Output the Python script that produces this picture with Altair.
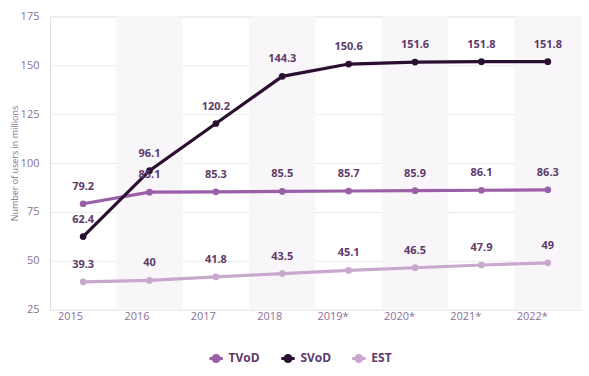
import altair as alt
import pandas as pd

years = ["2015", "2016", "2017", "2018", "2019*", "2020*", "2021*", "2022*"]
tvod = [79.2, 85.1, 85.3, 85.5, 85.7, 85.9, 86.1, 86.3]
svod = [62.4, 96.1, 120.2, 144.3, 150.6, 151.6, 151.8, 151.8]
est = [39.3, 40, 41.8, 43.5, 45.1, 46.5, 47.9, 49]
series = ["TVoD", "SVoD", "EST"]
colors = ["#9a5fa6", "#2b0f30", "#c8a8cd"]
shaded = ["2016", "2018", "2020*", "2022*"]

rows = []
for name, vals in zip(series, [tvod, svod, est]):
    for y, v in zip(years, vals):
        rows.append({"year": y, "value": v, "series": name})
df = pd.DataFrame(rows)
bands = pd.DataFrame({"year": shaded})

font = "Open Sans"
H = 294
xenc = alt.X("year:N", sort=years, scale=alt.Scale(domain=years, paddingInner=0, paddingOuter=0),
             axis=alt.Axis(title=None, labelAngle=0, labelColor="#8a6f95", labelFontSize=11,
                           labelFont=font, domain=False, ticks=False, labelPadding=7, grid=False))
yscale = alt.Scale(domain=[25, 175], nice=False, zero=False)

bg = alt.Chart(bands).mark_rect(color="#f9f6fa").encode(
    x=alt.X("year:N", sort=years, scale=alt.Scale(domain=years, paddingInner=0, paddingOuter=0)),
    y=alt.value(0), y2=alt.value(H))

color = alt.Color("series:N", sort=series, scale=alt.Scale(domain=series, range=colors),
                  legend=alt.Legend(title=None, orient="none", direction="horizontal",
                                    legendX=158, legendY=334, labelFont=font, labelFontSize=12,
                                    labelFontWeight="bold", labelColor="#5d3a6b",
                                    symbolType="M-1,0L1,0M-0.45,0A0.45,0.45 0 1 1 0.45,0A0.45,0.45 0 1 1 -0.45,0Z",
                                    symbolSize=180, symbolStrokeWidth=3, columnPadding=14))

lines = alt.Chart(df).mark_line(strokeWidth=3.2, point=alt.OverlayMarkDef(size=45, filled=True)).encode(
    x=xenc,
    y=alt.Y("value:Q", scale=yscale,
            axis=alt.Axis(title="Number of users in millions", titleFont=font, titleFontSize=9,
                          titleFontWeight="normal", titleColor="#8a6f95", titlePadding=1,
                          values=[25, 50, 75, 100, 125, 150, 175], labelColor="#8a6f95",
                          labelFont=font, labelFontSize=11, labelPadding=11, domain=False,
                          ticks=False, gridColor="#ebebeb", gridWidth=1)),
    color=color)

labels = alt.Chart(df).mark_text(dy=-17, font=font, fontSize=11, fontWeight="bold", color="#5d3a6b").encode(
    x=alt.X("year:N", sort=years), y=alt.Y("value:Q", scale=yscale), text="value:Q")

chart = alt.layer(bg, lines, labels).properties(
    width=532, height=H, autosize=alt.AutoSizeParams(type="none"),
    padding={"left": 42, "top": 8, "right": 0, "bottom": 58}
).configure_view(stroke=None).configure(background="white")

chart.save("out.html", embed_options={"renderer": "svg", "actions": False})
